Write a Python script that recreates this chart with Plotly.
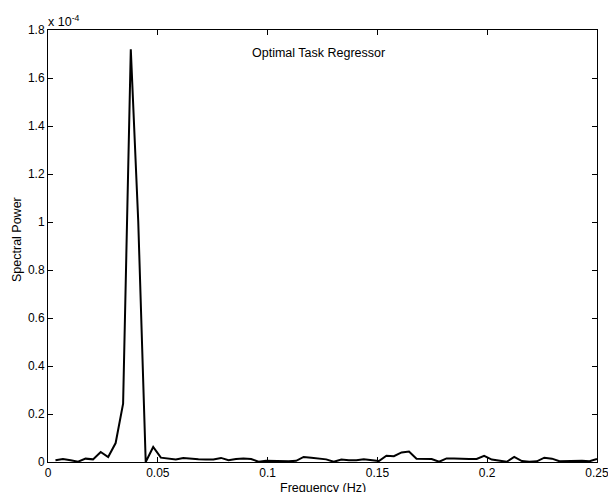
import plotly.graph_objects as go

# Frequency bins (Hz)
freq = [0.0034, 0.0068, 0.0103, 0.0137, 0.0171, 0.0205, 0.0240, 0.0274, 0.0308, 0.0342,
        0.0377, 0.0411, 0.0445, 0.0479, 0.0514, 0.0548, 0.0582, 0.0616, 0.0651, 0.0685,
        0.0719, 0.0753, 0.0788, 0.0822, 0.0856, 0.0890, 0.0925, 0.0959, 0.0993, 0.1027,
        0.1062, 0.1096, 0.1130, 0.1164, 0.1199, 0.1233, 0.1267, 0.1301, 0.1336, 0.1370,
        0.1404, 0.1438, 0.1473, 0.1507, 0.1541, 0.1575, 0.1610, 0.1644, 0.1678, 0.1712,
        0.1747, 0.1781, 0.1815, 0.1849, 0.1884, 0.1918, 0.1952, 0.1986, 0.2021, 0.2055,
        0.2089, 0.2123, 0.2158, 0.2192, 0.2226, 0.2260, 0.2295, 0.2329, 0.2363, 0.2397,
        0.2432, 0.2466, 0.2500]

# Spectral power (x 1e-4)
power = [0.007, 0.0125, 0.007, 0.0014, 0.014, 0.011, 0.042, 0.021, 0.079, 0.243,
         1.72, 1.0, 0.0, 0.0625, 0.018, 0.015, 0.010, 0.017, 0.0125, 0.011,
         0.010, 0.010, 0.017, 0.007, 0.0125, 0.015, 0.0125, 0.001, 0.005, 0.004,
         0.003, 0.003, 0.005, 0.021, 0.018, 0.014, 0.011, 0.001, 0.010, 0.007,
         0.007, 0.011, 0.007, 0.004, 0.026, 0.024, 0.040, 0.044, 0.014, 0.0125,
         0.0125, 0.001, 0.015, 0.015, 0.0125, 0.0125, 0.0125, 0.026, 0.010, 0.005,
         0.001, 0.021, 0.004, 0.001, 0.003, 0.018, 0.014, 0.003, 0.004, 0.005,
         0.005, 0.003, 0.0125]

x_ticks = [0, 0.05, 0.1, 0.15, 0.2, 0.25]
x_ticklabels = ["0", "0.05", "0.1", "0.15", "0.2", "0.25"]
y_ticks = [0, 0.2, 0.4, 0.6, 0.8, 1.0, 1.2, 1.4, 1.6, 1.8]
y_ticklabels = ["0", "0.2", "0.4", "0.6", "0.8", "1", "1.2", "1.4", "1.6", "1.8"]

FONT = "Liberation Sans, Arial, Helvetica, sans-serif"

fig = go.Figure()
fig.add_trace(go.Scatter(x=freq, y=power, mode="lines",
                         line=dict(color="black", width=2), showlegend=False,
                         hoverinfo="skip"))

axis_common = dict(showline=True, linecolor="black", linewidth=1, mirror="ticks",
                   ticks="inside", ticklen=5, tickcolor="black", tickwidth=1,
                   showgrid=False, zeroline=False, ticklabeloverflow="allow",
                   automargin=False,
                   tickfont=dict(family=FONT, size=12, color="black"))

fig.update_xaxes(range=[0, 0.25], tickvals=x_ticks, ticktext=x_ticklabels, **axis_common)
fig.update_yaxes(range=[0, 1.8], tickvals=y_ticks, ticktext=y_ticklabels, **axis_common)

fig.update_layout(
    width=608, height=492, autosize=False,
    margin=dict(l=48, r=11, t=30, b=30),
    paper_bgcolor="white", plot_bgcolor="white",
    font=dict(family=FONT, size=12, color="black"),
    annotations=[
        dict(text="Optimal Task Regressor", xref="paper", yref="paper",
             x=0.492, y=1, yshift=-23, xanchor="center", yanchor="middle",
             showarrow=False, font=dict(family=FONT, size=12.5)),
        dict(text="x 10<sup>-4</sup>", xref="paper", yref="paper",
             x=0, y=1, xshift=-2, yshift=-1, xanchor="left", yanchor="bottom",
             showarrow=False, font=dict(family=FONT, size=12.5)),
        dict(text="Frequency (Hz)", xref="paper", yref="paper",
             x=0.5, y=0, yshift=-17, xanchor="center", yanchor="top",
             showarrow=False, font=dict(family=FONT, size=12.5)),
        dict(text="Spectral Power", xref="paper", yref="paper",
             x=0, y=0.5, xshift=-31, yshift=6, xanchor="center", yanchor="middle",
             textangle=-90, showarrow=False, font=dict(family=FONT, size=12.5)),
    ],
)

fig.write_html("out.html",
               config={"displayModeBar": False, "responsive": False},
               post_script="document.body.style.margin='0';document.body.style.overflow='hidden';")
